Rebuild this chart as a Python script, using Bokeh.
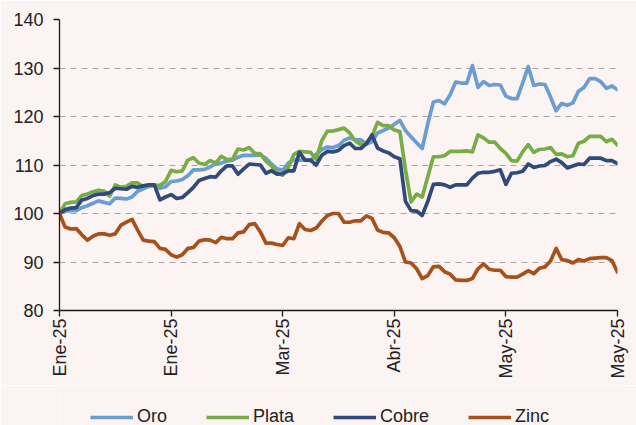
import math
from bokeh.plotting import figure
from bokeh.layouts import column
from bokeh.models import Range1d, FixedTicker, Legend, LegendItem
from bokeh.embed import file_html
from bokeh.resources import INLINE

# ---------------- data ----------------
x_ticks = [0, 20, 40, 60, 80, 100]
x_tick_labels = ["Ene-25", "Ene-25", "Mar-25", "Abr-25", "May-25", "May-25"]
y_ticks = [80, 90, 100, 110, 120, 130, 140]
series_names = ["Oro", "Plata", "Cobre", "Zinc"]

oro = [100, 100.5, 100.6, 100.6, 101.2, 101.6, 102.1, 102.6, 102.3, 102.0,
       103.2, 103.1, 103.0, 103.4, 104.6, 105.1, 105.6, 105.8, 105.2, 105.5,
       106.6, 106.7, 107.0, 107.8, 109.0, 109.0, 109.1, 109.6, 110.3, 110.4,
       110.8, 111.0, 111.6, 112.0, 112.0, 112.0, 112.1, 111.4, 110.2, 109.2,
       108.9, 110.4, 111.1, 111.0, 111.0, 110.9, 112.2, 113.2, 113.7, 113.6,
       114.0, 115.1, 115.6, 115.2, 115.2, 114.3, 114.8, 116.6, 117.1, 117.6,
       118.4, 119.2, 117.1, 115.8, 114.6, 113.4, 118.5, 123.0, 123.3, 122.6,
       124.5, 127.1, 126.9, 126.9, 130.5, 126.0, 127.2, 126.4, 126.6, 126.5,
       124.2, 123.7, 123.7, 126.9, 130.3, 126.4, 126.7, 126.6, 124.0, 121.2,
       122.7, 122.3, 122.8, 125.2, 126.0, 127.8, 127.8, 127.2, 125.8, 126.3,
       125.5]

plata = [100, 102.0, 102.3, 102.4, 103.7, 104.0, 104.5, 104.8, 104.6, 103.6,
         105.9, 105.4, 105.6, 106.3, 106.3, 105.5, 105.8, 105.8, 105.8, 106.6,
         108.9, 108.6, 108.8, 111.0, 111.5, 110.4, 110.1, 110.9, 110.4, 111.8,
         111.1, 111.2, 113.3, 113.1, 113.6, 112.4, 112.3, 110.8, 109.8, 108.4,
         107.9, 109.5, 112.2, 112.8, 112.7, 112.6, 111.2, 115.0, 117.0, 117.0,
         117.3, 117.6, 116.6, 115.0, 114.2, 114.6, 115.9, 118.8, 118.1, 118.1,
         117.2, 116.9, 109.0, 102.4, 104.0, 103.4, 107.6, 111.7, 111.7, 111.9,
         112.8, 112.8, 112.8, 112.9, 112.7, 116.2, 115.6, 114.7, 114.7, 113.4,
         112.4, 110.9, 110.8, 112.7, 114.2, 112.6, 113.2, 113.3, 113.6, 112.2,
         112.3, 111.7, 111.9, 114.5, 114.9, 115.9, 115.9, 115.9, 114.8, 115.3,
         114.1]

cobre = [100, 100.8, 101.1, 101.2, 102.8, 103.1, 103.7, 104.0, 104.0, 104.3,
         105.2, 105.1, 105.0, 105.6, 105.4, 105.7, 105.9, 105.9, 102.8, 103.4,
         103.9, 103.1, 103.3, 104.3, 105.4, 106.8, 107.2, 107.6, 107.5, 108.8,
         109.8, 109.8, 108.1, 109.2, 110.2, 110.1, 110.0, 108.3, 108.8, 108.1,
         108.2, 108.8, 108.8, 112.6, 111.0, 111.0, 110.0, 112.0, 112.8, 112.7,
         113.0, 114.0, 114.5, 113.4, 113.4, 114.4, 116.2, 113.5, 112.9, 112.5,
         111.7, 111.3, 102.5, 100.6, 100.5, 99.6, 102.5, 106.0, 106.1, 105.9,
         105.4, 105.9, 105.9, 105.9, 107.3, 108.3, 108.5, 108.5, 108.7, 109.0,
         106.0, 108.3, 108.4, 108.7, 110.2, 109.5, 109.8, 109.9, 110.7, 111.2,
         110.5, 109.4, 109.8, 110.2, 110.1, 111.4, 111.4, 111.4, 110.9, 110.9,
         110.3]

zinc = [100, 97.2, 96.8, 96.9, 95.6, 94.5, 95.3, 95.8, 95.8, 95.5,
        95.8, 97.6, 98.2, 98.8, 96.6, 94.5, 94.3, 94.2, 92.8, 92.6,
        91.5, 91.0, 91.5, 92.8, 93.0, 94.3, 94.6, 94.5, 94.0, 95.1,
        94.8, 94.8, 96.0, 96.2, 97.7, 97.9, 96.2, 93.9, 93.9, 93.6,
        93.4, 95.0, 94.8, 97.9, 96.7, 96.5, 97.0, 98.4, 99.6, 100,
        100, 98.2, 98.2, 98.5, 98.5, 99.5, 99.0, 96.6, 96.1, 96.0,
        95.0, 93.2, 90.0, 89.8, 88.6, 86.6, 87.2, 89.0, 89.1, 88.0,
        87.5, 86.3, 86.2, 86.2, 86.6, 88.6, 89.6, 88.5, 88.3, 88.3,
        87.0, 86.9, 86.9, 87.5, 88.2, 87.6, 88.7, 89.0, 90.2, 92.8,
        90.5, 90.3, 89.8, 90.5, 90.2, 90.7, 90.8, 90.9, 90.9, 90.3,
        87.9]

days = list(range(len(oro)))
all_series = [oro, plata, cobre, zinc]

# ---------------- style ----------------
BG = "#fcf4f2"
colors = ["#6a9ed3", "#78ac47", "#2f4a7b", "#a8501a"]
FONT = "Liberation Sans"
LW = 3.7

p = figure(width=636, height=385,
           x_range=Range1d(0, 100), y_range=Range1d(80, 140),
           output_backend="svg", toolbar_location=None,
           min_border_left=59, min_border_right=19,
           min_border_top=19, min_border_bottom=75,
           background_fill_color=BG, border_fill_color=BG,
           outline_line_color=None)

for name, ys, c in zip(series_names, all_series, colors):
    p.line(days, ys, line_color=c, line_width=LW, line_join="round", line_cap="round")

# axes
p.xaxis.ticker = FixedTicker(ticks=x_ticks)
p.xaxis.major_label_overrides = {t: l for t, l in zip(x_ticks, x_tick_labels)}
p.xaxis.major_label_orientation = math.pi / 2
p.yaxis.ticker = FixedTicker(ticks=y_ticks)
for ax in (p.xaxis, p.yaxis):
    ax.axis_line_color = "#1a1a1a"
    ax.axis_line_width = 1.3
    ax.major_tick_line_color = "#1a1a1a"
    ax.major_tick_line_width = 1.3
    ax.major_tick_in = 0
    ax.major_tick_out = 6
    ax.minor_tick_line_color = None
    ax.major_label_text_font = FONT
    ax.major_label_text_font_size = "18px"
    ax.major_label_text_color = "#222222"
p.yaxis.major_label_standoff = 10
p.xaxis.major_label_standoff = 2

p.xgrid.visible = False
p.ygrid.grid_line_color = "#aaa5a3"
p.ygrid.grid_line_dash = "6 5"
p.ygrid.grid_line_width = 1.2

# legend strip below the chart (series drawn out of its view; only the key shows)
leg = figure(width=636, height=40, x_range=Range1d(0, 1), y_range=Range1d(0, 1),
             output_backend="svg", toolbar_location=None,
             x_axis_location=None, y_axis_location=None, min_border=0,
             background_fill_color=BG, border_fill_color=BG,
             outline_line_color=None)
leg.grid.visible = False
leg_renderers = [leg.line(days, ys, line_color=c, line_width=LW)
                 for ys, c in zip(all_series, colors)]
legend = Legend(items=[LegendItem(label=n, renderers=[r]) for n, r in zip(series_names, leg_renderers)],
                location=(31, -2), orientation="horizontal",
                glyph_width=43, glyph_height=18, label_height=18,
                label_standoff=4, spacing=39, padding=0, margin=0,
                border_line_color=None, background_fill_alpha=0,
                label_text_font=FONT, label_text_font_size="18px",
                label_text_color="#222222")
leg.add_layout(legend, "center")

open("out.html", "w").write(file_html(column(p, leg, spacing=0), INLINE))
